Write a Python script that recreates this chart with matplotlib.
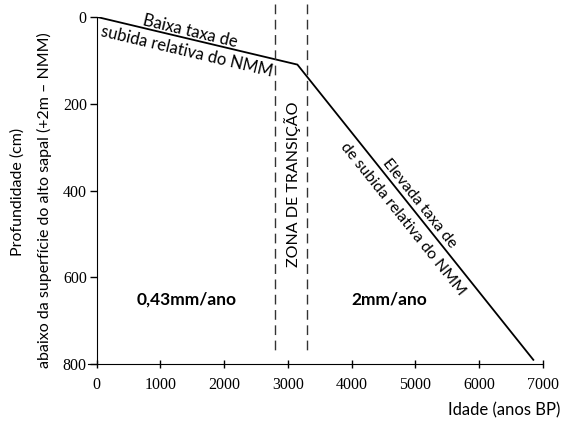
import numpy as np
import matplotlib
matplotlib.use('Agg')
import matplotlib.pyplot as plt

# data
age = [0, 3150, 6850]
depth = [0, 110, 790]
transition = [2800, 3300]
xticks = [0, 1000, 2000, 3000, 4000, 5000, 6000, 7000]
yticks = [0, 200, 400, 600, 800]

SANS = 'Lato'
SERIF = 'Liberation Serif'
FS = 11.5

fig = plt.figure(figsize=(5.62, 4.21), dpi=100)
ax = fig.add_axes([0.157, 0.135, 0.809, 0.825])

ax.plot(age, depth, color='black', lw=1.3, solid_joinstyle='miter')
for x in transition:
    ax.plot([x, x], [-30, 775], color='#333333', lw=1.0, dashes=(7, 4), clip_on=False)

ax.set_xlim(-130, 7000)
ax.set_ylim(800, 0)
ax.spines['top'].set_visible(False)
ax.spines['right'].set_visible(False)
ax.spines['left'].set_position(('data', 0))
ax.spines['left'].set_bounds(0, 800)
ax.set_xticks(xticks)
ax.set_yticks(yticks)
ax.tick_params(axis='x', direction='inout', length=6, width=1, pad=6)
ax.tick_params(axis='y', direction='out', length=5, width=1, pad=2)
for lab in ax.get_xticklabels() + ax.get_yticklabels():
    lab.set_fontfamily(SERIF)
    lab.set_fontsize(11.5)


def screen_angle(i):
    p = ax.transData.transform([(age[i], depth[i]), (age[i + 1], depth[i + 1])])
    d = p[1] - p[0]
    return np.degrees(np.arctan2(d[1], d[0]))


a1 = screen_angle(0)
a2 = screen_angle(1)
kw = dict(family=SANS, ha='center', va='center', rotation_mode='anchor')
ax.text(1470, 33, 'Baixa taxa de', rotation=a1, fontsize=12, **kw)
ax.text(1420, 80, 'subida relativa do NMM', rotation=a1, fontsize=12, **kw)
ax.text(5070, 429, 'Elevada taxa de', rotation=a2, fontsize=FS, **kw)
ax.text(4800, 465, 'de subida relativa do NMM', rotation=a2, fontsize=FS, **kw)
ax.text(3080, 385, 'ZONA DE TRANSIÇÃO', rotation=90, fontsize=FS, **kw)
ax.text(1420, 652, '0,43mm/ano', family=SANS, fontsize=12.5, fontweight='bold', ha='center', va='center')
ax.text(4590, 652, '2mm/ano', family=SANS, fontsize=12.5, fontweight='bold', ha='center', va='center')

fig.text(0.997, 0.025, 'Idade (anos BP)', family=SANS, fontsize=12, ha='right', va='center')
fig.text(0.032, 0.545, 'Profundidade (cm)', family=SANS, fontsize=FS, rotation=90, ha='center', va='center')
fig.text(0.080, 0.525, 'abaixo da superfície do alto sapal (+2m – NMM)', family=SANS, fontsize=FS,
         rotation=90, ha='center', va='center')

fig.savefig('out.png', dpi=100)
